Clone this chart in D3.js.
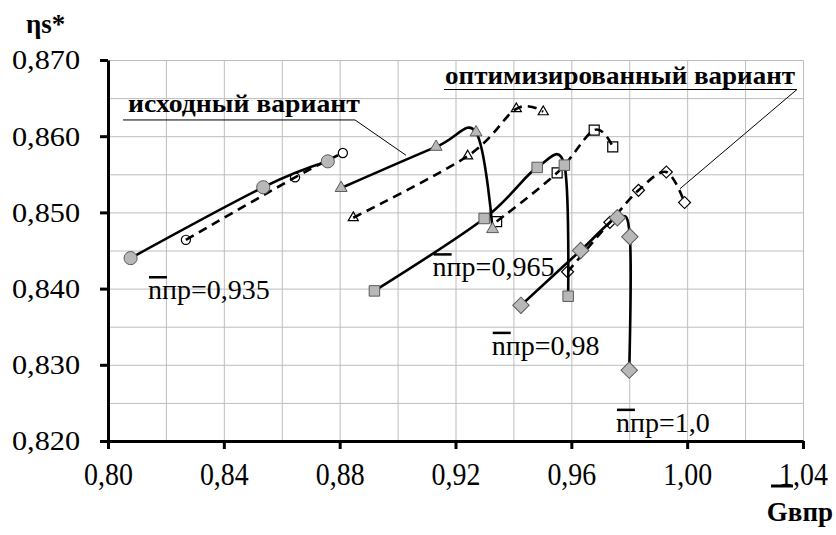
<html>

<head>
    <meta charset="utf-8" />
    <title>КПД ступени</title>
    <script src="https://d3js.org/d3.v7.min.js"></script>
    <style>
        body {
            margin: 0;
            background: #fff;
        }

        .grids line {
            stroke: #bdbdbd;
            stroke-width: 1;
        }

        .grids .domain {
            display: none;
        }

        .axis .domain,
        .axis line {
            stroke: #000;
            stroke-width: 3;
        }
    </style>
</head>

<body>
    <svg id="chart" width="836" height="535"></svg>
    <script>
        const FONT = "Liberation Serif"

        // relative speed of each characteristic
        const speeds = ["0,935", "0,965", "0,98", "1,0"]
        const symbols = ["circle", "triangle", "square", "diamond"]

        // original variant (solid, grey markers)
        const gBase935 = [0.8078, 0.8536, 0.8759]
        const etaBase935 = [0.8440, 0.8533, 0.8567]
        const gBase965 = [0.8805, 0.9133, 0.9271, 0.9328]
        const etaBase965 = [0.8532, 0.8586, 0.8605, 0.8478]
        const gBase98 = [0.8920, 0.9299, 0.9482, 0.9576, 0.9589]
        const etaBase98 = [0.8397, 0.8492, 0.8559, 0.8562, 0.8390]
        const gBase100 = [0.9426, 0.9632, 0.9759, 0.9802, 0.9800]
        const etaBase100 = [0.8378, 0.8450, 0.8493, 0.8468, 0.8293]

        // optimized variant (dashed, white markers)
        const gOpt935 = [0.8269, 0.8646, 0.8811]
        const etaOpt935 = [0.8464, 0.8546, 0.8578]
        const gOpt965 = [0.8847, 0.9242, 0.9410, 0.9503]
        const etaOpt965 = [0.8493, 0.8574, 0.8636, 0.8632]
        const gOpt98 = [0.9342, 0.9551, 0.9679, 0.9743]
        const etaOpt98 = [0.8488, 0.8552, 0.8608, 0.8586]
        const gOpt100 = [0.9587, 0.9733, 0.9832, 0.9928, 0.9991]
        const etaOpt100 = [0.8422, 0.8487, 0.8529, 0.8553, 0.8513]

        const xTicks = [0.80, 0.84, 0.88, 0.92, 0.96, 1.00, 1.04]
        const yTicks = [0.820, 0.830, 0.840, 0.850, 0.860, 0.870]

        const zip = (gs, es) => gs.map((g, i) => [g, es[i]])
        const baseSeries = [zip(gBase935, etaBase935), zip(gBase965, etaBase965),
            zip(gBase98, etaBase98), zip(gBase100, etaBase100)]
        const optSeries = [zip(gOpt935, etaOpt935), zip(gOpt965, etaOpt965),
            zip(gOpt98, etaOpt98), zip(gOpt100, etaOpt100)]

        const svg = d3.select("svg#chart")
        const margin = { left: 108, top: 60, right: 33, bottom: 94 }
        const chartWidth = svg.attr("width") - margin.left - margin.right
        const chartHeight = svg.attr("height") - margin.top - margin.bottom

        const chart = svg.append("g")
            .attr("transform", `translate(${margin.left}, ${margin.top})`)

        const x = d3.scaleLinear().domain([0.80, 1.04]).range([0, chartWidth])
        const y = d3.scaleLinear().domain([0.820, 0.870]).range([chartHeight, 0])

        const ru = d3.formatLocale({ decimal: ",", thousands: " ", grouping: [3], currency: ["", ""] })

        // grid
        chart.append("g").attr("class", "grids")
            .attr("transform", `translate(0, ${chartHeight})`)
            .call(d3.axisBottom(x).tickValues(d3.range(0.82, 1.041, 0.02)).tickSize(-chartHeight).tickFormat(""))
        chart.append("g").attr("class", "grids")
            .call(d3.axisLeft(y).tickValues(d3.range(0.825, 0.8701, 0.005)).tickSize(-chartWidth).tickFormat(""))

        // axes
        const yAxis = chart.append("g").attr("class", "axis")
            .call(d3.axisLeft(y).tickValues(yTicks).tickSize(8).tickSizeOuter(0)
                .tickFormat(ru.format(".3f")))
        yAxis.attr("font-family", FONT)
        yAxis.selectAll("text")
            .attr("font-family", FONT).attr("font-size", 28)
            .attr("fill", "#000")
            .attr("transform", "scale(1.08,1)").attr("x", -28 / 1.08)
        const xAxis = chart.append("g").attr("class", "axis")
            .attr("transform", `translate(0, ${chartHeight})`)
            .call(d3.axisBottom(x).tickValues(xTicks).tickSize(8).tickSizeOuter(0).tickPadding(14)
                .tickFormat(ru.format(".2f")))
        xAxis.attr("font-family", FONT)
        xAxis.selectAll("text")
            .attr("font-family", FONT).attr("font-size", 31)
            .attr("fill", "#000")
            .attr("transform", "scale(0.9,1)")
        xAxis.selectAll(".tick").each(function (d) {
            // keep the squeezed label centred under its tick
            d3.select(this).select("text").attr("x", 0)
        })

        const curveGen = d3.line().x(d => x(d[0])).y(d => y(d[1])).curve(d3.curveCardinal.tension(0))

        const markerSize = {
            base: { circle: 135, triangle: 62, square: 110, diamond: 135 },
            opt: { circle: 66, triangle: 44, square: 100, diamond: 72 }
        }
        const symbolGen = (type, kind) => {
            const t = { circle: d3.symbolCircle, triangle: d3.symbolTriangle, square: d3.symbolSquare, diamond: d3.symbolSquare }[type]
            return d3.symbol().type(t).size(markerSize[kind][type])()
        }

        // optimized: white markers, dashed line over them
        optSeries.forEach((pts, i) => {
            chart.selectAll(`path.opt-mark-${i}`).data(pts)
                .join("path").attr("class", `opt-mark-${i}`)
                .attr("d", symbolGen(symbols[i], "opt"))
                .attr("transform", d => `translate(${x(d[0])}, ${y(d[1])})` + (symbols[i] == "diamond" ? " rotate(45)" : ""))
                .attr("fill", "#fff").attr("stroke", "#000").attr("stroke-width", 1.2)
        })
        chart.selectAll("path.opt-line").data(optSeries)
            .join("path").attr("class", "opt-line")
            .attr("d", d => curveGen(d))
            .attr("fill", "none").attr("stroke", "#000")
            .attr("stroke-width", 2.6).attr("stroke-dasharray", "9,6")

        // original: solid lines, grey markers on top
        chart.selectAll("path.base-line").data(baseSeries)
            .join("path").attr("class", "base-line")
            .attr("d", d => curveGen(d))
            .attr("fill", "none").attr("stroke", "#000").attr("stroke-width", 2.6)
        baseSeries.forEach((pts, i) => {
            chart.selectAll(`path.base-mark-${i}`).data(pts)
                .join("path").attr("class", `base-mark-${i}`)
                .attr("d", symbolGen(symbols[i], "base"))
                .attr("transform", d => `translate(${x(d[0])}, ${y(d[1])})` + (symbols[i] == "diamond" ? " rotate(45)" : ""))
                .attr("fill", "#b8b8b8").attr("stroke", "#5a5a5a").attr("stroke-width", 1)
        })

        // speed labels  n̄пр = ...
        const speedPos = [[0.8138, 0.8386], [0.9121, 0.8416], [0.9325, 0.8313], [0.9754, 0.8212]]
        speedPos.forEach((p, i) => {
            const lx = x(p[0]), ly = y(p[1])
            chart.append("text").attr("x", lx).attr("y", ly)
                .attr("font-family", FONT).attr("font-size", 28).attr("fill", "#000")
                .text("nпр=" + speeds[i])
            chart.append("line").attr("x1", lx + 1).attr("x2", lx + 19)
                .attr("y1", ly - 22).attr("y2", ly - 22)
                .attr("stroke", "#000").attr("stroke-width", 2.5)
        })

        // variant callouts: bold text, rule under it, leader to the curves
        const callout = (label, tx, ty, width, gap, ulFrom, ulTo, tip) => {
            chart.append("text").attr("x", x(tx)).attr("y", y(ty))
                .attr("font-family", FONT).attr("font-size", 26).attr("font-weight", "bold").attr("fill", "#000")
                .attr("textLength", width).attr("lengthAdjust", "spacingAndGlyphs")
                .text(label)
            chart.append("polyline")
                .attr("points", [[x(ulFrom), y(ty) + gap], [x(ulTo), y(ty) + gap], [x(tip[0]), y(tip[1])]]
                    .map(p => p.join(",")).join(" "))
                .attr("fill", "none").attr("stroke", "#000").attr("stroke-width", 1)
        }
        callout("исходный вариант", 0.8069, 0.86318, 232, 8, 0.8052, 0.8853, [0.9029, 0.8575])
        callout("оптимизированный вариант", 0.9164, 0.86685, 350, 5.5, 0.9160, 1.0379, [0.9975, 0.8531])

        // axis titles
        svg.append("text").attr("x", 26).attr("y", 33)
            .attr("font-family", FONT).attr("font-size", 27).attr("font-weight", "bold").attr("fill", "#000")
            .text("ηs*")

        svg.append("text").attr("x", 833).attr("y", 521).attr("text-anchor", "end")
            .attr("font-family", FONT).attr("font-size", 27).attr("font-weight", "bold").attr("fill", "#000")
            .text("Gвпр")
        svg.append("line").attr("x1", 771).attr("x2", 793).attr("y1", 486).attr("y2", 486)
            .attr("stroke", "#000").attr("stroke-width", 3)
    </script>
</body>

</html>
